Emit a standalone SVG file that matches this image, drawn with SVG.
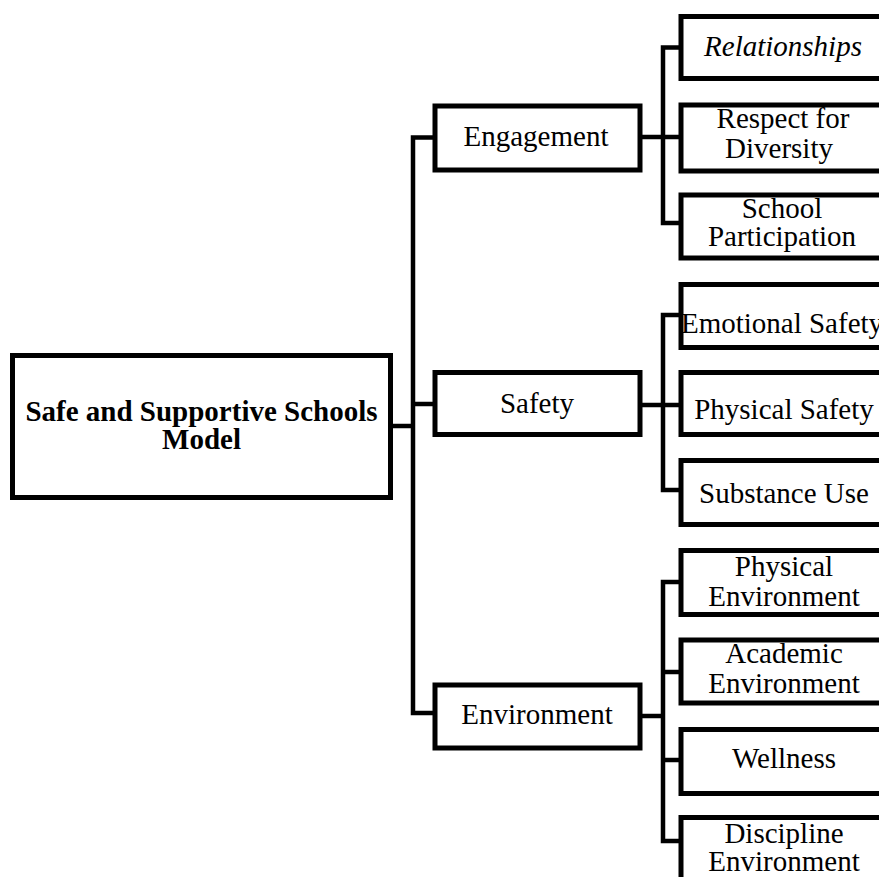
<svg xmlns="http://www.w3.org/2000/svg" width="879" height="877" viewBox="0 0 879 877">
<style>
.box{fill:#fff;stroke:#000;stroke-width:5}
.ln{fill:none;stroke:#000;stroke-width:4.5;stroke-linejoin:miter;stroke-linecap:butt}
text{font-family:"Liberation Serif","Times New Roman",serif;font-size:29px;fill:#000;text-anchor:middle}
.root{font-weight:bold;font-size:29px}
.it{font-style:italic}
</style>
<rect width="879" height="877" fill="#fff"/>
<g id="connectors">
<path class="ln" d="M393 426H413"/>
<path class="ln" d="M435 137.5H413V713H435"/>
<path class="ln" d="M413 404H435"/>
<path class="ln" d="M640 137H681"/>
<path class="ln" d="M681 47.5H663V223H681"/>
<path class="ln" d="M640 405H681"/>
<path class="ln" d="M681 315H663V490H681"/>
<path class="ln" d="M640 716H663"/>
<path class="ln" d="M681 582H663V841H681"/>
<path class="ln" d="M663 672H681"/>
<path class="ln" d="M663 760H681"/>
</g>
<g id="root"><rect class="box" x="12.5" y="355.5" width="378" height="142"/>
<text class="root" x="201.5" y="421">Safe and Supportive Schools<tspan x="201.5" dy="28">Model</tspan></text></g>
<g id="engagement"><rect class="box" x="435" y="106" width="205" height="64"/>
<text x="536" y="146">Engagement</text></g>
<g id="safety"><rect class="box" x="435" y="372.5" width="205" height="62"/>
<text x="537" y="413">Safety</text></g>
<g id="environment"><rect class="box" x="435" y="685" width="205" height="63"/>
<text x="537" y="724">Environment</text></g>
<g id="relationships"><rect class="box" x="681" y="16.5" width="210" height="62"/>
<text class="it" x="783" y="56">Relationships</text></g>
<g id="respect"><rect class="box" x="681" y="105" width="210" height="66"/>
<text x="783" y="128">Respect for<tspan x="779" dy="30">Diversity</tspan></text></g>
<g id="participation"><rect class="box" x="681" y="195" width="210" height="63"/>
<text x="782" y="218">School<tspan x="782" dy="28">Participation</tspan></text></g>
<g id="emotional"><rect class="box" x="681" y="284.5" width="210" height="63"/>
<text x="782" y="333">Emotional Safety</text></g>
<g id="physical-safety"><rect class="box" x="681" y="372.5" width="210" height="62"/>
<text x="784" y="419">Physical Safety</text></g>
<g id="substance"><rect class="box" x="681" y="460.5" width="210" height="64"/>
<text x="784" y="503">Substance Use</text></g>
<g id="physical-env"><rect class="box" x="681" y="550.5" width="210" height="64"/>
<text x="784" y="576">Physical<tspan x="784" dy="30">Environment</tspan></text></g>
<g id="academic-env"><rect class="box" x="681" y="640" width="210" height="63"/>
<text x="784" y="663">Academic<tspan x="784" dy="30">Environment</tspan></text></g>
<g id="wellness"><rect class="box" x="681" y="729.5" width="210" height="64"/>
<text x="784" y="768">Wellness</text></g>
<g id="discipline-env"><rect class="box" x="681" y="817.5" width="210" height="75"/>
<text x="784" y="843">Discipline<tspan x="784" dy="28">Environment</tspan></text></g>
</svg>
